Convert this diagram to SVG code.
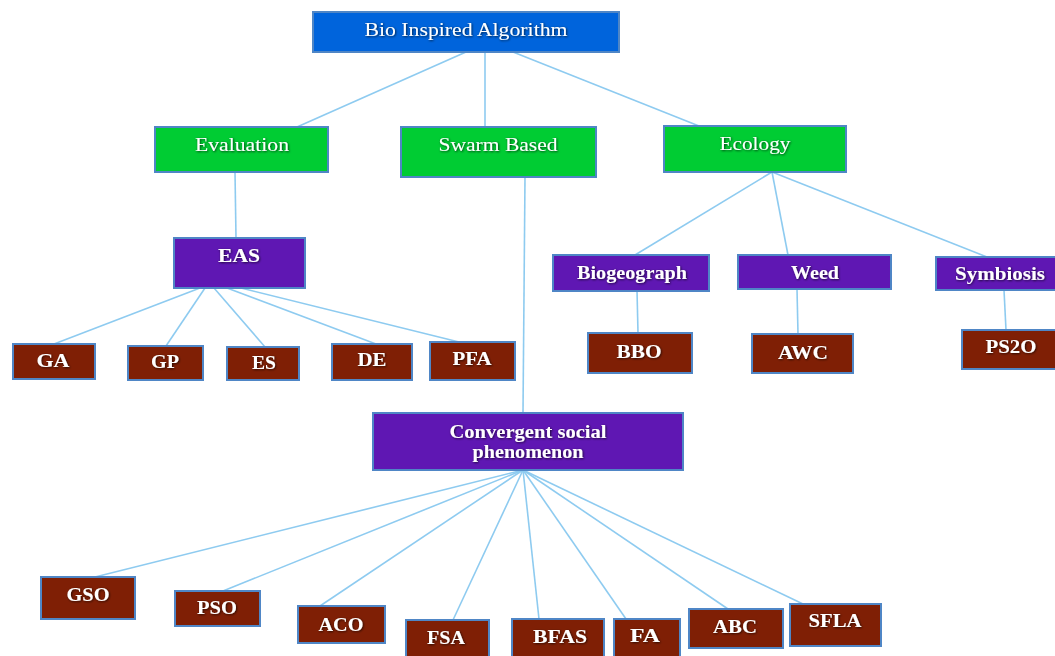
<svg xmlns="http://www.w3.org/2000/svg" width="1055" height="656" viewBox="0 0 1055 656">
<defs>
<filter id="sh" x="-10%" y="-30%" width="120%" height="160%">
<feDropShadow dx="0.8" dy="0.8" stdDeviation="0.9" flood-color="#000" flood-opacity="0.75"/>
</filter>
<style>
.box{stroke:#4f86c6;stroke-width:2}
.blue{fill:#0064dc}
.green{fill:#00cc33}
.purple{fill:#5f17b3}
.brown{fill:#7f1f05}
.t{font-family:"Liberation Serif","Times New Roman",serif;font-size:18px;fill:#fff;text-anchor:middle;filter:url(#sh)}
.b{font-weight:bold}
.ln{stroke:#8ecbf0;stroke-width:1.6;fill:none}
</style>
</defs>
<rect width="1055" height="656" fill="#fff"/>
<g id="connectors">
<line class="ln" x1="466" y1="52" x2="297" y2="127"/>
<line class="ln" x1="485" y1="52" x2="485" y2="127"/>
<line class="ln" x1="513" y1="52" x2="699" y2="126"/>
<line class="ln" x1="235" y1="172" x2="236" y2="238"/>
<line class="ln" x1="200" y1="288" x2="54" y2="344"/>
<line class="ln" x1="205" y1="288" x2="166" y2="346"/>
<line class="ln" x1="214" y1="288" x2="265" y2="347"/>
<line class="ln" x1="227" y1="288" x2="376" y2="344"/>
<line class="ln" x1="241" y1="288" x2="459" y2="342"/>
<line class="ln" x1="525" y1="177" x2="523" y2="413"/>
<line class="ln" x1="772" y1="172" x2="635" y2="255"/>
<line class="ln" x1="772" y1="172" x2="788" y2="255"/>
<line class="ln" x1="772" y1="172" x2="987" y2="257"/>
<line class="ln" x1="637" y1="290" x2="638" y2="333"/>
<line class="ln" x1="797" y1="289" x2="798" y2="334"/>
<line class="ln" x1="1004" y1="290" x2="1006" y2="330"/>
<line class="ln" x1="523" y1="470" x2="95" y2="577"/>
<line class="ln" x1="523" y1="470" x2="223" y2="591"/>
<line class="ln" x1="523" y1="470" x2="320" y2="606"/>
<line class="ln" x1="523" y1="470" x2="453" y2="620"/>
<line class="ln" x1="523" y1="470" x2="539" y2="619"/>
<line class="ln" x1="523" y1="470" x2="626" y2="619"/>
<line class="ln" x1="523" y1="470" x2="728" y2="609"/>
<line class="ln" x1="523" y1="470" x2="803" y2="604"/>
</g>
<g id="root"><rect class="box blue" x="313" y="12" width="306" height="40"/><text class="t" x="466" y="36" textLength="203" lengthAdjust="spacingAndGlyphs">Bio Inspired Algorithm</text></g>
<g id="evaluation"><rect class="box green" x="155" y="127" width="173" height="45"/><text class="t" x="242" y="151" textLength="94" lengthAdjust="spacingAndGlyphs">Evaluation</text></g>
<g id="swarm"><rect class="box green" x="401" y="127" width="195" height="50"/><text class="t" x="498" y="151" textLength="119" lengthAdjust="spacingAndGlyphs">Swarm Based</text></g>
<g id="ecology"><rect class="box green" x="664" y="126" width="182" height="46"/><text class="t" x="755" y="150" textLength="71" lengthAdjust="spacingAndGlyphs">Ecology</text></g>
<g id="eas"><rect class="box purple" x="174" y="238" width="131" height="50"/><text class="t b" x="239" y="262" textLength="42" lengthAdjust="spacingAndGlyphs">EAS</text></g>
<g id="ga"><rect class="box brown" x="13" y="344" width="82" height="35"/><text class="t b" x="53" y="367" textLength="33" lengthAdjust="spacingAndGlyphs">GA</text></g>
<g id="gp"><rect class="box brown" x="128" y="346" width="75" height="34"/><text class="t b" x="165" y="368" textLength="28" lengthAdjust="spacingAndGlyphs">GP</text></g>
<g id="es"><rect class="box brown" x="227" y="347" width="72" height="33"/><text class="t b" x="264" y="369" textLength="24" lengthAdjust="spacingAndGlyphs">ES</text></g>
<g id="de"><rect class="box brown" x="332" y="344" width="80" height="36"/><text class="t b" x="372" y="366" textLength="29" lengthAdjust="spacingAndGlyphs">DE</text></g>
<g id="pfa"><rect class="box brown" x="430" y="342" width="85" height="38"/><text class="t b" x="472" y="365" textLength="39" lengthAdjust="spacingAndGlyphs">PFA</text></g>
<g id="biogeograph"><rect class="box purple" x="553" y="255" width="156" height="36"/><text class="t b" x="632" y="279" textLength="110" lengthAdjust="spacingAndGlyphs">Biogeograph</text></g>
<g id="weed"><rect class="box purple" x="738" y="255" width="153" height="34"/><text class="t b" x="815" y="279" textLength="48" lengthAdjust="spacingAndGlyphs">Weed</text></g>
<g id="symbiosis"><rect class="box purple" x="936" y="257" width="125" height="33"/><text class="t b" x="1000" y="280" textLength="90" lengthAdjust="spacingAndGlyphs">Symbiosis</text></g>
<g id="bbo"><rect class="box brown" x="588" y="333" width="104" height="40"/><text class="t b" x="639" y="358" textLength="45" lengthAdjust="spacingAndGlyphs">BBO</text></g>
<g id="awc"><rect class="box brown" x="752" y="334" width="101" height="39"/><text class="t b" x="803" y="359" textLength="50" lengthAdjust="spacingAndGlyphs">AWC</text></g>
<g id="ps2o"><rect class="box brown" x="962" y="330" width="100" height="39"/><text class="t b" x="1011" y="353" textLength="51" lengthAdjust="spacingAndGlyphs">PS2O</text></g>
<g id="convergent"><rect class="box purple" x="373" y="413" width="310" height="57"/><text class="t b" x="528" y="438" textLength="157" lengthAdjust="spacingAndGlyphs">Convergent social</text><text class="t b" x="528" y="458" textLength="111" lengthAdjust="spacingAndGlyphs">phenomenon</text></g>
<g id="gso"><rect class="box brown" x="41" y="577" width="94" height="42"/><text class="t b" x="88" y="601" textLength="43" lengthAdjust="spacingAndGlyphs">GSO</text></g>
<g id="pso"><rect class="box brown" x="175" y="591" width="85" height="35"/><text class="t b" x="217" y="614" textLength="40" lengthAdjust="spacingAndGlyphs">PSO</text></g>
<g id="aco"><rect class="box brown" x="298" y="606" width="87" height="37"/><text class="t b" x="341" y="631" textLength="45" lengthAdjust="spacingAndGlyphs">ACO</text></g>
<g id="fsa"><rect class="box brown" x="406" y="620" width="83" height="40"/><text class="t b" x="446" y="644" textLength="38" lengthAdjust="spacingAndGlyphs">FSA</text></g>
<g id="bfas"><rect class="box brown" x="512" y="619" width="92" height="41"/><text class="t b" x="560" y="643" textLength="54" lengthAdjust="spacingAndGlyphs">BFAS</text></g>
<g id="fa"><rect class="box brown" x="614" y="619" width="66" height="41"/><text class="t b" x="645" y="642" textLength="30" lengthAdjust="spacingAndGlyphs">FA</text></g>
<g id="abc"><rect class="box brown" x="689" y="609" width="94" height="39"/><text class="t b" x="735" y="633" textLength="44" lengthAdjust="spacingAndGlyphs">ABC</text></g>
<g id="sfla"><rect class="box brown" x="790" y="604" width="91" height="42"/><text class="t b" x="835" y="627" textLength="53" lengthAdjust="spacingAndGlyphs">SFLA</text></g>
</svg>
